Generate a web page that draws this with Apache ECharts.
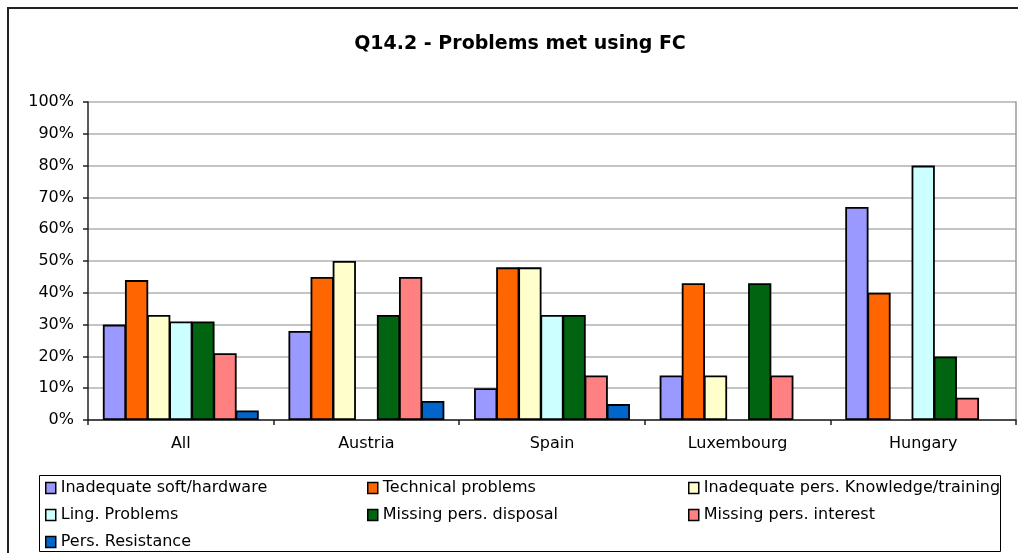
<!DOCTYPE html>
<html>
<head>
<meta charset="utf-8">
<script src="https://cdn.jsdelivr.net/npm/echarts@6/dist/echarts.min.js"></script>
<style>
  html, body { margin: 0; padding: 0; background: #fff; }
  #chart { width: 1018px; height: 553px; }
</style>
</head>
<body>
<div id="chart"></div>
<script>
// Survey answers per country, share of respondents (%)
const categories = ['All', 'Austria', 'Spain', 'Luxembourg', 'Hungary'];
const seriesNames = [
  'Inadequate soft/hardware',
  'Technical problems',
  'Inadequate pers. Knowledge/training',
  'Ling. Problems',
  'Missing pers. disposal',
  'Missing pers. interest',
  'Pers. Resistance'
];
const softHardware   = [30, 28, 10, 14, 67];
const technical      = [44, 45, 48, 43, 40];
const knowledge      = [33, 50, 48, 14, null];
const lingProblems   = [31, null, 33, null, 80];
const persDisposal   = [31, 33, 33, 43, 20];
const persInterest   = [21, 45, 14, 14, 7];
const persResistance = [3, 6, 5, null, null];
const yTicks = [0, 10, 20, 30, 40, 50, 60, 70, 80, 90, 100];

const values = [softHardware, technical, knowledge, lingProblems, persDisposal, persInterest, persResistance];
const colors = ['#9999FF', '#FF6600', '#FFFFCC', '#CCFFFF', '#006411', '#FF8080', '#0066CC'];

const FONT = 'DejaVu Sans';

const series = seriesNames.map((name, i) => ({
  name: name,
  type: 'bar',
  data: values[i],
  barGap: '-5%',
  barCategoryGap: '16%',
  itemStyle: { color: colors[i], borderColor: '#000', borderWidth: 1.8 },
  emphasis: { disabled: true }
}));

// the plot area's right edge line
series.push({
  type: 'line', yAxisIndex: 1, data: [], silent: true
});

function legendColumn(names, left) {
  return {
    orient: 'vertical',
    left: left,
    top: 480,
    padding: 0,
    itemGap: 11,
    itemWidth: 10,
    itemHeight: 11,
    icon: 'rect',
    data: names,
    itemStyle: { borderColor: '#000', borderWidth: 1.5 },
    textStyle: { fontFamily: FONT, fontSize: 16, color: '#000', lineHeight: 16, padding: [0, 0, 0, 0] },
    selectedMode: false
  };
}

const chart = echarts.init(document.getElementById('chart'), null, { renderer: 'canvas' });
chart.setOption({
  animation: false,
  backgroundColor: '#fff',
  title: {
    text: 'Q14.2 - Problems met using FC',
    left: 515,
    top: 30,
    textAlign: 'center',
    textStyle: { fontFamily: '"Comic Sans MS", ' + FONT, fontWeight: 'bold', fontSize: 19, color: '#000' }
  },
  legend: [
    legendColumn([seriesNames[0], seriesNames[3], seriesNames[6]], 45),
    legendColumn([seriesNames[1], seriesNames[4]], 367),
    legendColumn([seriesNames[2], seriesNames[5]], 688)
  ],
  grid: { left: 88, right: 2, top: 102, bottom: 133, containLabel: false },
  xAxis: {
    type: 'category',
    data: categories,
    axisLine: { lineStyle: { color: '#222', width: 1.5 } },
    axisTick: { show: true, length: 5, lineStyle: { color: '#222', width: 1.5 } },
    axisLabel: { fontFamily: FONT, fontSize: 16, color: '#000', margin: 16 }
  },
  yAxis: [{
    type: 'value',
    min: yTicks[0],
    max: yTicks[yTicks.length - 1],
    interval: yTicks[1] - yTicks[0],
    axisLine: { show: true, lineStyle: { color: '#222', width: 1.5 } },
    axisTick: { show: true, length: 5, lineStyle: { color: '#222', width: 1.5 } },
    axisLabel: { fontFamily: FONT, fontSize: 16, color: '#000', margin: 14, formatter: '{value}%' },
    splitLine: { show: true, lineStyle: { color: '#b0b0b0', width: 1.5 } }
  }, {
    type: 'value',
    position: 'right',
    min: 0, max: 100,
    axisLine: { show: true, lineStyle: { color: '#999', width: 1.5 } },
    axisTick: { show: false },
    axisLabel: { show: false },
    splitLine: { show: false }
  }],
  graphic: [
    {
      type: 'rect',
      shape: { x: 8, y: 8, width: 1100, height: 600 },
      style: { fill: null, stroke: '#222', lineWidth: 2 },
      silent: true
    },
    {
      type: 'rect',
      shape: { x: 39.5, y: 475.5, width: 961, height: 76 },
      style: { fill: null, stroke: '#000', lineWidth: 1 },
      silent: true
    }
  ],
  series: series
});
</script>
</body>
</html>
